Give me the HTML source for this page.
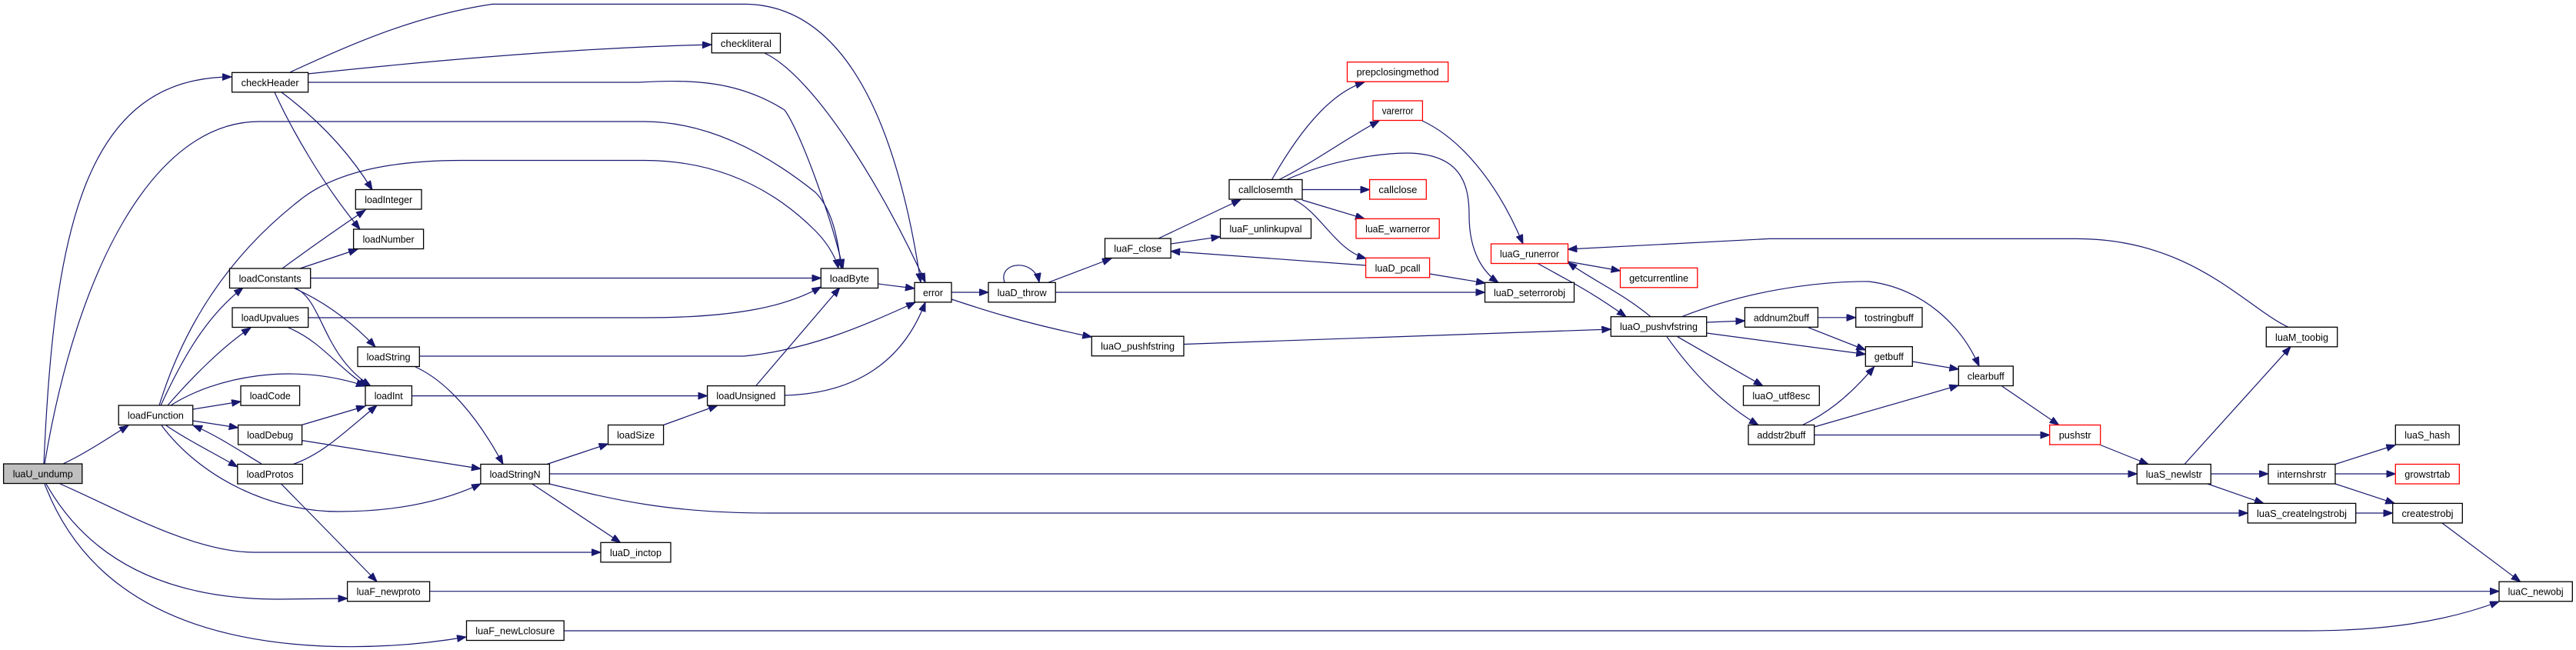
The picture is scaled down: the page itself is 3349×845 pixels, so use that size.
<!DOCTYPE html>
<html><head><meta charset="utf-8"><style>
html,body{margin:0;padding:0;background:#fff;}
svg{display:block;}
.n{fill:#fff;stroke:#000;stroke-width:1.3;}
.r{fill:#fff;stroke:#ff0000;stroke-width:1.3;}
.g{fill:#bfbfbf;stroke:#000;stroke-width:1.3;}
text{font-family:"Liberation Sans",sans-serif;font-size:13px;fill:#000;text-anchor:middle;}
path.e{fill:none;stroke:#191970;stroke-width:1.2;marker-end:url(#a);}
</style></head><body>
<svg width="3349" height="845" viewBox="0 0 3349 845" xmlns="http://www.w3.org/2000/svg">
<defs><marker id="a" markerUnits="userSpaceOnUse" markerWidth="13" markerHeight="10" refX="12" refY="4.5" orient="auto"><path d="M0,0 L12,4.5 L0,9 z" fill="#191970" stroke="#191970"/></marker></defs>

<!-- edges -->
<path class="e" d="M57,603 C70,300 110,100 301,100"/>
<path class="e" d="M58,603 C100,350 200,158 337,158 L837,158 C930,158 1010,210 1060,250 C1085,275 1090,320 1094,349"/>
<path class="e" d="M207,527 C240,420 300,330 390,260 C440,220 520,208.5 600,208.5 L837,208.5 C950,208.5 1020,260 1060,300 C1080,320 1088,340 1090,349"/>
<path class="e" d="M400.7,107 L830,107 C900,103 960,105 1020,143 C1040,170 1080,280 1096,349"/>
<path class="e" d="M377,94 C450,60 540,20 640,5.4 L967,5.4 C1080,5.4 1160,120 1197,367"/>
<path class="e" d="M400,96 C550,80 750,62 925,58"/>
<path class="e" d="M366,120 Q440,175 484,247"/>
<path class="e" d="M357,120 C380,170 420,240 468,298"/>
<path class="e" d="M82,603 C110,590 140,570 167,553"/>
<path class="e" d="M78,629 C150,660 250,718 330,718 L781,718"/>
<path class="e" d="M60,629 C100,700 180,778 360,779 L451.6,778"/>
<path class="e" d="M58,629 C100,740 200,830 420,840 C500,843 560,836 606,828"/>
<path class="e" d="M733,820 L3000,820 C3100,820 3180,808 3249,782"/>
<path class="e" d="M558.7,768.7 L3249,768.7"/>
<path class="e" d="M209,527 C240,460 270,410 316,374"/>
<path class="e" d="M218,527 C250,490 290,450 326,426"/>
<path class="e" d="M222,527 C280,490 380,470 475,502"/>
<path class="e" d="M251,532 L313,522"/>
<path class="e" d="M251,547 L309.6,556"/>
<path class="e" d="M216,553 C240,570 280,590 308.8,607"/>
<path class="e" d="M340,603 C310,585 280,565 251,553"/>
<path class="e" d="M210,553 C260,620 350,665 440,665 C520,665 580,650 625,629"/>
<path class="e" d="M994,69 C1060,100 1150,250 1203,367"/>
<path class="e" d="M545,463 L967,463 C1050,455 1120,425 1190,393"/>
<path class="e" d="M1020,514 C1100,512 1170,480 1203,393"/>
<path class="e" d="M1141.5,369 L1189,375"/>
<path class="e" d="M403.7,361.5 L1067.3,361.5"/>
<path class="e" d="M367,349 Q420,310 475,273"/>
<path class="e" d="M390,349 L465,324"/>
<path class="e" d="M381,374 Q440,400 488,451"/>
<path class="e" d="M383,374 C420,390 418,460 482,502"/>
<path class="e" d="M400.7,413 L837,413 C950,413 1020,400 1067.3,373"/>
<path class="e" d="M540,477 C580,495 620,540 654,603.5"/>
<path class="e" d="M375,426 C420,445 440,480 478,502"/>
<path class="e" d="M392,552.5 L475,528"/>
<path class="e" d="M381,603.5 C420,590 450,560 490,527"/>
<path class="e" d="M365.5,629 L490,756"/>
<path class="e" d="M392.7,572.6 L624.9,609.4"/>
<path class="e" d="M535.4,514.6 L919.6,514.6"/>
<path class="e" d="M711,603.5 L790.6,577"/>
<path class="e" d="M862.5,552.5 L933,527"/>
<path class="e" d="M982.7,501.6 L1091.8,374"/>
<path class="e" d="M691.8,629 L806.7,705.3"/>
<path class="e" d="M714.4,616 L2778.3,616"/>
<path class="e" d="M714,629 C800,650 870,667 1000,667 L2922.3,667"/>
<path class="e" d="M1237,380 L1285,380"/>
<path class="e" d="M1237,389 C1270,400 1330,420 1419.3,438"/>
<path class="e" d="M1306,367 C1297,340 1345,335 1351,367"/>
<path class="e" d="M1362.6,367.3 L1445,336"/>
<path class="e" d="M1372.2,380 L1930.5,380"/>
<path class="e" d="M1506,310 L1613,259.5"/>
<path class="e" d="M1522,317 L1586.5,307.7"/>
<path class="e" d="M1776,345 L1522.2,326.6"/>
<path class="e" d="M1653.5,233.5 C1697,157 1736,119 1774,106.7"/>
<path class="e" d="M1663,233.5 C1710,210 1750,180 1793,157"/>
<path class="e" d="M1672.6,233.5 C1735,206 1800,199 1830,199 C1900,200 1910,240 1910,280 C1910,330 1930,355 1948,367.3"/>
<path class="e" d="M1693,246.5 L1780.6,246.5"/>
<path class="e" d="M1693,260 L1774,284.4"/>
<path class="e" d="M1682,259.5 C1717,276 1736,325 1776,336"/>
<path class="e" d="M1849,157 C1896,179 1945,233 1980,317"/>
<path class="e" d="M1858.6,356 L1931,368"/>
<path class="e" d="M1999,342.4 C2045,368 2068,379 2114,411.7"/>
<path class="e" d="M2146,411.7 C2106,379 2068,363 2038.4,341"/>
<path class="e" d="M2038.4,340 L2106.5,352"/>
<path class="e" d="M1539,447.5 L2094.3,428"/>
<path class="e" d="M2218.7,419 L2268.4,417"/>
<path class="e" d="M2186.5,411.7 C2297,368 2400,365.6 2430,366 C2500,375 2550,423 2573,476"/>
<path class="e" d="M2218.7,433 L2425.3,460.5"/>
<path class="e" d="M2180.8,437.7 L2291.8,501.6"/>
<path class="e" d="M2167,437.7 C2202,487 2240,525 2286,552.5"/>
<path class="e" d="M2363.3,412.8 L2412.7,412.8"/>
<path class="e" d="M2351,425.8 L2425.3,455"/>
<path class="e" d="M2343.4,552.5 C2370,540 2400,520 2436.7,476.7"/>
<path class="e" d="M2358.7,555 L2546.3,501"/>
<path class="e" d="M2358.7,565.5 L2664.7,565.5"/>
<path class="e" d="M2486.3,470 L2546.3,480"/>
<path class="e" d="M2602.7,502 L2676.7,552.5"/>
<path class="e" d="M2730.7,578.5 L2793,603.5"/>
<path class="e" d="M2975,425.3 C2920,400 2850,310.4 2700,310.4 L2300,310.4 L2038.4,324"/>
<path class="e" d="M2840,603.5 L2978,450.7"/>
<path class="e" d="M2874.3,616 L2949,616"/>
<path class="e" d="M2870,629 L2943,654.4"/>
<path class="e" d="M3036,603.5 L3114.3,578.5"/>
<path class="e" d="M3036,616 L3114.3,616"/>
<path class="e" d="M3036,629 L3113.3,654.4"/>
<path class="e" d="M3062.7,667 L3110.7,667"/>
<path class="e" d="M3175,680 L3276.7,756.2"/>

<!-- nodes -->
<g>
<rect class="g" x="4.6" y="603" width="102.2" height="25.5"/><text x="55.7" y="620.5" textLength="78" lengthAdjust="spacingAndGlyphs">luaU_undump</text>
<rect class="n" x="301.6" y="94.3" width="99" height="25.5"/><text x="351.1" y="111.8" textLength="75" lengthAdjust="spacingAndGlyphs">checkHeader</text>
<rect class="n" x="462.3" y="246.5" width="85.7" height="25.5"/><text x="505.2" y="264" textLength="62" lengthAdjust="spacingAndGlyphs">loadInteger</text>
<rect class="n" x="459.6" y="298" width="91" height="25.5"/><text x="505.1" y="315.5" textLength="67" lengthAdjust="spacingAndGlyphs">loadNumber</text>
<rect class="n" x="298.5" y="349" width="105.2" height="25.5"/><text x="351.1" y="366.5" textLength="81" lengthAdjust="spacingAndGlyphs">loadConstants</text>
<rect class="n" x="302" y="400" width="98.7" height="25.5"/><text x="351.3" y="417.5" textLength="75" lengthAdjust="spacingAndGlyphs">loadUpvalues</text>
<rect class="n" x="465" y="451" width="80.3" height="25.5"/><text x="505.1" y="468.5" textLength="57" lengthAdjust="spacingAndGlyphs">loadString</text>
<rect class="n" x="313" y="501.6" width="76.6" height="25.5"/><text x="351.3" y="519.1" textLength="53" lengthAdjust="spacingAndGlyphs">loadCode</text>
<rect class="n" x="475" y="501.6" width="60.4" height="25.5"/><text x="505.2" y="519.1" textLength="37" lengthAdjust="spacingAndGlyphs">loadInt</text>
<rect class="n" x="154.2" y="527" width="96.5" height="25.5"/><text x="202.4" y="544.5" textLength="73" lengthAdjust="spacingAndGlyphs">loadFunction</text>
<rect class="n" x="309.6" y="552.5" width="83" height="25.5"/><text x="351.1" y="570" textLength="60" lengthAdjust="spacingAndGlyphs">loadDebug</text>
<rect class="n" x="308.8" y="603.5" width="84.6" height="25.5"/><text x="351.1" y="621" textLength="61" lengthAdjust="spacingAndGlyphs">loadProtos</text>
<rect class="n" x="451.6" y="756.2" width="107" height="25.5"/><text x="505.1" y="773.7" textLength="83" lengthAdjust="spacingAndGlyphs">luaF_newproto</text>
<rect class="n" x="925.3" y="43.3" width="89.2" height="25.5"/><text x="969.9" y="60.8" textLength="66" lengthAdjust="spacingAndGlyphs">checkliteral</text>
<rect class="n" x="1067.3" y="349" width="74.2" height="25.5"/><text x="1104.4" y="366.5" textLength="51" lengthAdjust="spacingAndGlyphs">loadByte</text>
<rect class="n" x="1189" y="367.3" width="48" height="25.5"/><text x="1213" y="384.8" textLength="26" lengthAdjust="spacingAndGlyphs">error</text>
<rect class="n" x="919.6" y="501.6" width="100.6" height="25.5"/><text x="969.9" y="519.1" textLength="77" lengthAdjust="spacingAndGlyphs">loadUnsigned</text>
<rect class="n" x="790.6" y="552.5" width="72" height="25.5"/><text x="826.6" y="570" textLength="49" lengthAdjust="spacingAndGlyphs">loadSize</text>
<rect class="n" x="624.9" y="603.5" width="89.5" height="25.5"/><text x="669.6" y="621" textLength="66" lengthAdjust="spacingAndGlyphs">loadStringN</text>
<rect class="n" x="781" y="705.3" width="91" height="25.5"/><text x="826.5" y="722.8" textLength="67" lengthAdjust="spacingAndGlyphs">luaD_inctop</text>
<rect class="n" x="606.5" y="807" width="126.7" height="25.5"/><text x="669.8" y="824.5" textLength="103" lengthAdjust="spacingAndGlyphs">luaF_newLclosure</text>
<rect class="n" x="1285" y="367.3" width="87.2" height="25.5"/><text x="1328.6" y="384.8" textLength="64" lengthAdjust="spacingAndGlyphs">luaD_throw</text>
<rect class="n" x="1436.5" y="310" width="85.7" height="25.5"/><text x="1479.3" y="327.5" textLength="62" lengthAdjust="spacingAndGlyphs">luaF_close</text>
<rect class="n" x="1586.5" y="284.4" width="118" height="25.5"/><text x="1645.5" y="301.9" textLength="94" lengthAdjust="spacingAndGlyphs">luaF_unlinkupval</text>
<rect class="n" x="1598" y="233.5" width="95" height="25.5"/><text x="1645.5" y="251" textLength="71" lengthAdjust="spacingAndGlyphs">callclosemth</text>
<rect class="n" x="1419.3" y="437.2" width="119.7" height="25.5"/><text x="1479.1" y="454.7" textLength="96" lengthAdjust="spacingAndGlyphs">luaO_pushfstring</text>
<rect class="r" x="1751.5" y="80.7" width="131.2" height="25.5"/><text x="1817.1" y="98.2" textLength="107" lengthAdjust="spacingAndGlyphs">prepclosingmethod</text>
<rect class="r" x="1785" y="131" width="64.4" height="25.5"/><text x="1817.2" y="148.5" textLength="41" lengthAdjust="spacingAndGlyphs">varerror</text>
<rect class="r" x="1780.6" y="233.5" width="73.7" height="25.5"/><text x="1817.4" y="251" textLength="50" lengthAdjust="spacingAndGlyphs">callclose</text>
<rect class="r" x="1763" y="284.4" width="108.2" height="25.5"/><text x="1817.1" y="301.9" textLength="84" lengthAdjust="spacingAndGlyphs">luaE_warnerror</text>
<rect class="r" x="1775.6" y="335.3" width="83" height="25.5"/><text x="1817.1" y="352.8" textLength="59" lengthAdjust="spacingAndGlyphs">luaD_pcall</text>
<rect class="r" x="1938.5" y="317" width="100" height="25.5"/><text x="1988.5" y="334.5" textLength="77" lengthAdjust="spacingAndGlyphs">luaG_runerror</text>
<rect class="r" x="2106.5" y="348.3" width="100.3" height="25.5"/><text x="2156.6" y="365.8" textLength="77" lengthAdjust="spacingAndGlyphs">getcurrentline</text>
<rect class="n" x="1930.5" y="367.3" width="116" height="25.5"/><text x="1988.5" y="384.8" textLength="93" lengthAdjust="spacingAndGlyphs">luaD_seterrorobj</text>
<rect class="n" x="2094.3" y="411.7" width="124.4" height="25.5"/><text x="2156.5" y="429.2" textLength="101" lengthAdjust="spacingAndGlyphs">luaO_pushvfstring</text>
<rect class="n" x="2268.4" y="399.8" width="95" height="25.5"/><text x="2315.9" y="417.3" textLength="72" lengthAdjust="spacingAndGlyphs">addnum2buff</text>
<rect class="n" x="2266.5" y="501.6" width="98.8" height="25.5"/><text x="2315.9" y="519.1" textLength="75" lengthAdjust="spacingAndGlyphs">luaO_utf8esc</text>
<rect class="n" x="2273" y="552.5" width="85.7" height="25.5"/><text x="2315.9" y="570" textLength="63" lengthAdjust="spacingAndGlyphs">addstr2buff</text>
<rect class="n" x="2412.7" y="399.8" width="86.3" height="25.5"/><text x="2455.9" y="417.3" textLength="64" lengthAdjust="spacingAndGlyphs">tostringbuff</text>
<rect class="n" x="2425.3" y="450.7" width="61" height="25.5"/><text x="2455.8" y="468.2" textLength="38" lengthAdjust="spacingAndGlyphs">getbuff</text>
<rect class="n" x="2546.3" y="476" width="71" height="25.5"/><text x="2581.8" y="493.5" textLength="48" lengthAdjust="spacingAndGlyphs">clearbuff</text>
<rect class="r" x="2664.7" y="552.5" width="66" height="25.5"/><text x="2697.7" y="570" textLength="42" lengthAdjust="spacingAndGlyphs">pushstr</text>
<rect class="n" x="2778.3" y="603.5" width="96" height="25.5"/><text x="2826.3" y="621" textLength="73" lengthAdjust="spacingAndGlyphs">luaS_newlstr</text>
<rect class="n" x="2946.3" y="425.3" width="92.4" height="25.5"/><text x="2992.5" y="442.8" textLength="69" lengthAdjust="spacingAndGlyphs">luaM_toobig</text>
<rect class="n" x="3114.3" y="552.5" width="83" height="25.5"/><text x="3155.8" y="570" textLength="59" lengthAdjust="spacingAndGlyphs">luaS_hash</text>
<rect class="n" x="2949" y="603.5" width="87" height="25.5"/><text x="2992.5" y="621" textLength="64" lengthAdjust="spacingAndGlyphs">internshrstr</text>
<rect class="r" x="3114.3" y="603.5" width="83" height="25.5"/><text x="3155.8" y="621" textLength="59" lengthAdjust="spacingAndGlyphs">growstrtab</text>
<rect class="n" x="2922.3" y="654.4" width="140.4" height="25.5"/><text x="2992.5" y="671.9" textLength="117" lengthAdjust="spacingAndGlyphs">luaS_createlngstrobj</text>
<rect class="n" x="3110.7" y="654.4" width="90.6" height="25.5"/><text x="3156" y="671.9" textLength="67" lengthAdjust="spacingAndGlyphs">createstrobj</text>
<rect class="n" x="3249" y="756.2" width="95.3" height="25.5"/><text x="3296.6" y="773.7" textLength="72" lengthAdjust="spacingAndGlyphs">luaC_newobj</text>
</g>
</svg>
</body></html>
